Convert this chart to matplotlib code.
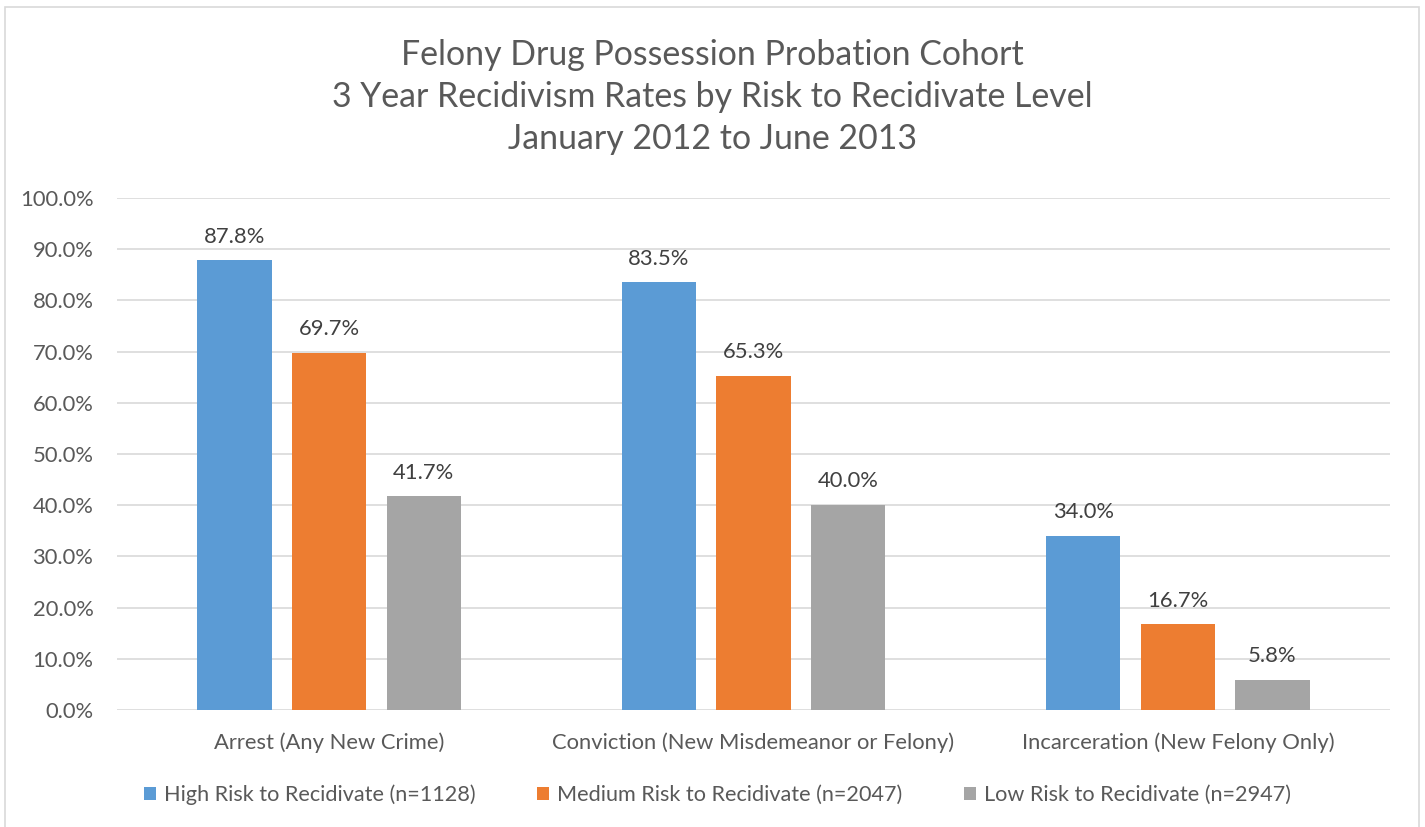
import matplotlib.pyplot as plt
import numpy as np
from matplotlib.patches import Rectangle

plt.rcParams["font.family"] = ["Lato", "DejaVu Sans"]

categories = ["Arrest (Any New Crime)", "Conviction (New Misdemeanor or Felony)",
              "Incarceration (New Felony Only)"]
series = ["High Risk to Recidivate (n=1128)", "Medium Risk to Recidivate (n=2047)",
          "Low Risk to Recidivate (n=2947)"]
high = [87.8, 83.5, 34.0]
medium = [69.7, 65.3, 16.7]
low = [41.7, 40.0, 5.8]
colors = ["#5B9BD5", "#ED7D31", "#A5A5A5"]
text_color = "#595959"

fig = plt.figure(figsize=(14.25, 8.27), dpi=100)
fig.patches.append(Rectangle((5 / 1425, -0.01), 1414 / 1425, 1 - 7 / 827 + 0.01,
                             transform=fig.transFigure, fill=False,
                             edgecolor="#d9d9d9", linewidth=1.2))
ax = fig.add_axes([117 / 1425, 1 - 710 / 827, 1273 / 1425, 512 / 827])

x = np.arange(len(categories))
width = 0.175
step = 0.223
for i, (vals, name) in enumerate(zip([high, medium, low], series)):
    bars = ax.bar(x + (i - 1) * step, vals, width, color=colors[i], label=name, zorder=3)
    for b, v in zip(bars, vals):
        ax.text(b.get_x() + b.get_width() / 2, v + 2.7, f"{v:.1f}%", ha="center",
                va="bottom", fontsize=15.8, color="#404040", zorder=4)

ax.set_xlim(-0.5, 2.5)
ax.set_ylim(0, 100)
ax.set_yticks(np.arange(0, 101, 10))
ax.set_yticklabels([f"{t:.1f}%" for t in np.arange(0, 101, 10)])
ax.set_xticks(x)
ax.set_xticklabels(categories)
ax.tick_params(axis="both", length=0, labelsize=15.8, labelcolor=text_color)
ax.tick_params(axis="y", pad=17)
ax.tick_params(axis="x", pad=16)
ax.grid(axis="y", color="#d9d9d9", linewidth=1.2, zorder=0)
for s in ax.spines.values():
    s.set_visible(False)

fig.text(0.5, 1 - 97 / 827,
         "Felony Drug Possession Probation Cohort\n3 Year Recidivism Rates by Risk to Recidivate Level\nJanuary 2012 to June 2013",
         ha="center", va="center", fontsize=24.4, color=text_color, linespacing=1.38)

fig.legend(loc="center", bbox_to_anchor=(0.5035, 1 - 795 / 827), ncol=3, frameon=False,
           fontsize=15.6, labelcolor=text_color, handlelength=0.55, handleheight=0.55,
           handletextpad=0.37, columnspacing=2.85)

fig.savefig("out.png", dpi=100)
